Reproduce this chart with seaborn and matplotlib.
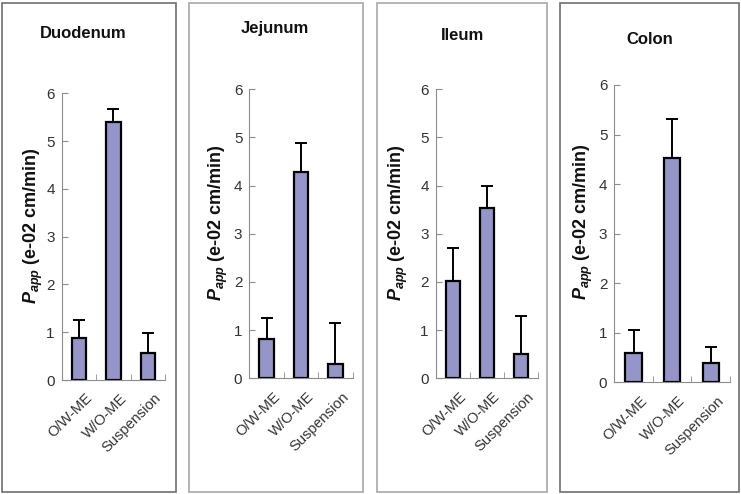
import matplotlib
matplotlib.use("Agg")
import matplotlib.pyplot as plt
import matplotlib.transforms as mtransforms
import seaborn as sns
import pandas as pd
from matplotlib.patches import Rectangle

# formulations on the x axis
groups = ["O/W-ME", "W/O-ME", "Suspension"]

# intestinal segments (panel titles)
segments = ["Duodenum", "Jejunum", "Ileum", "Colon"]

# mean Papp (e-02 cm/min) per segment
duodenum_mean = [0.88, 5.39, 0.56]
jejunum_mean = [0.82, 4.29, 0.30]
ileum_mean = [2.03, 3.54, 0.50]
colon_mean = [0.59, 4.52, 0.38]

# upper error (SD) per segment
duodenum_sd = [0.37, 0.29, 0.42]
jejunum_sd = [0.43, 0.59, 0.84]
ileum_sd = [0.67, 0.46, 0.79]
colon_sd = [0.47, 0.79, 0.33]

means = [duodenum_mean, jejunum_mean, ileum_mean, colon_mean]
sds = [duodenum_sd, jejunum_sd, ileum_sd, colon_sd]

sns.set_style("white")
plt.rcParams["font.family"] = ["Liberation Sans", "DejaVu Sans"]
plt.rcParams["mathtext.fontset"] = "custom"
plt.rcParams["mathtext.it"] = "Liberation Sans:italic:bold"
plt.rcParams["mathtext.rm"] = "Liberation Sans:bold"

W, H = 741, 494
fig = plt.figure(figsize=(W / 100, H / 100), dpi=100)

# panel layout in pixels: box (x0, x1, y0, y1), axes (left, right, top, bottom), title (x, y)
boxes = [(2, 176, 3, 492), (189, 363, 3, 492), (377, 547, 3, 492), (560, 739, 3, 492)]
box_colors = ["#6e6e6e", "#a8a8a8", "#a8a8a8", "#6e6e6e"]
axes_px = [(61.7, 165, 93.3, 380), (249.3, 352.7, 89.3, 378.3),
           (435.7, 537.7, 89.3, 378.3), (614.3, 730, 85, 382.3)]
title_px = [(83, 33), (275, 28), (463, 35), (650, 40)]
ylabel_x = [-0.16, -0.19, -0.25, -0.17]

shift = mtransforms.ScaledTranslation(6 / 100, 0, fig.dpi_scale_trans)

for i, seg in enumerate(segments):
    x0, x1, y0, y1 = boxes[i]
    fig.add_artist(Rectangle((x0 / W, 1 - y1 / H), (x1 - x0) / W, (y1 - y0) / H,
                             transform=fig.transFigure, fill=False,
                             edgecolor=box_colors[i], linewidth=1.2))

    l, r, t, b = axes_px[i]
    ax = fig.add_axes([l / W, 1 - b / H, (r - l) / W, (b - t) / H])
    df = pd.DataFrame({"group": groups, "papp": means[i], "sd": sds[i]})
    sns.barplot(data=df, x="group", y="papp", order=groups, color="#9595c9",
                saturation=1, width=0.42, edgecolor="black", linewidth=1.6,
                errorbar=None, ax=ax)
    ax.errorbar(range(len(groups)), df["papp"], yerr=[[0] * len(groups), df["sd"]],
                fmt="none", ecolor="black", elinewidth=1.4, capsize=4, capthick=1.4,
                zorder=1)

    ax.set_xlim(-0.5, 2.5)
    ax.set_ylim(0, 6)
    ax.set_yticks(range(7))
    ax.set_xticks([0.5, 1.5, 2.5], minor=True)
    for s in ["top", "right"]:
        ax.spines[s].set_visible(False)
    for s in ["left", "bottom"]:
        ax.spines[s].set_color("#8c8c8c")
        ax.spines[s].set_linewidth(0.8)
    ax.tick_params(axis="y", direction="in", length=4, color="#8c8c8c",
                   labelsize=11, labelcolor="#333333", pad=5, left=True)
    ax.tick_params(axis="x", which="major", length=0, labelsize=10.5,
                   labelcolor="#333333", pad=8)
    ax.tick_params(axis="x", which="minor", direction="in", length=4,
                   color="#8c8c8c", bottom=True)
    ax.set_xticks(range(len(groups)))
    ax.set_xticklabels(groups, rotation=45, ha="right", rotation_mode="anchor")
    for lab in ax.get_xticklabels():
        lab.set_transform(lab.get_transform() + shift)
    ax.set_xlabel("")
    ax.set_ylabel(r"$P_{app}$ (e-02 cm/min)", fontsize=13,
                  fontweight="bold", color="#111111")
    ax.yaxis.set_label_coords(ylabel_x[i], 0.54)
    ax.patch.set_alpha(0)

    tx, ty = title_px[i]
    fig.text(tx / W, 1 - ty / H, seg, ha="center", va="center",
             fontsize=12, fontweight="bold", color="#111111")

fig.savefig("out.png", dpi=100)
